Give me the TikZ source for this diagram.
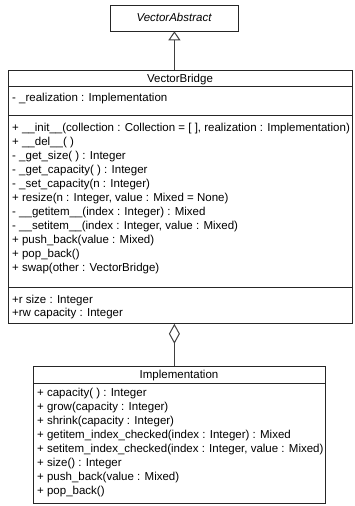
\documentclass[tikz,border=0pt]{standalone}
\usepackage{fontspec}
\setmainfont{Liberation Sans}
\usetikzlibrary{arrows.meta}
\begin{document}
\begin{tikzpicture}[x=1pt,y=1pt,
  box/.style={draw=black!85, line width=0.8pt, inner sep=0pt, anchor=north west},
  sep/.style={draw=black!85, line width=0.8pt},
  txt/.style={anchor=base west, inner sep=0pt, font=\fontsize{11.5}{13}\selectfont},
  ttl/.style={anchor=base, inner sep=0pt, font=\fontsize{11.5}{13}\selectfont},
  conn/.style={draw=black!75, line width=1.4pt}
]
\useasboundingbox (0,0) rectangle (355,-506);
% VectorAbstract
\node[box, minimum width=128pt, minimum height=26pt] (va) at (110,-4.5) {};
\node[ttl, font=\fontsize{11.5}{13}\selectfont\itshape] (vat) at (174,-21) {VectorAbstract};
% VectorBridge
\node[box, minimum width=344pt, minimum height=253pt] (vb) at (8,-70) {};
\draw[sep] (8,-86.5) -- (352,-86.5);
\draw[sep] (8,-115) -- (352,-115);
\draw[sep] (8,-287) -- (352,-287);
\node[ttl] (vbt) at (180,-82) {VectorBridge};
\node[txt] (a1) at (12,-101) {- \_realization : Implementation};
\node[txt] (m1) at (12,-131) {+ \_\_init\_\_(collection : Collection = [ ], realization : Implementation)};
\node[txt] (m2) at (12,-145) {+ \_\_del\_\_( )};
\node[txt] (m3) at (12,-159) {- \_get\_size( ) : Integer};
\node[txt] (m4) at (12,-173) {- \_get\_capacity( ) : Integer};
\node[txt] (m5) at (12,-187) {- \_set\_capacity(n : Integer)};
\node[txt] (m6) at (12,-201) {+ resize(n : Integer, value : Mixed = None)};
\node[txt] (m7) at (12,-215) {- \_\_getitem\_\_(index : Integer) : Mixed};
\node[txt] (m8) at (12,-229) {- \_\_setitem\_\_(index : Integer, value : Mixed)};
\node[txt] (m9) at (12,-243) {+ push\_back(value : Mixed)};
\node[txt] (m10) at (12,-257) {+ pop\_back()};
\node[txt] (m11) at (12,-271) {+ swap(other : VectorBridge)};
\node[txt] (p1) at (12,-303) {+r size : Integer};
\node[txt] (p2) at (12,-316) {+rw capacity : Integer};
% Implementation
\node[box, minimum width=292pt, minimum height=137pt] (im) at (33,-366) {};
\draw[sep] (33,-383) -- (325,-383);
\node[ttl] (imt) at (179,-378) {Implementation};
\node[txt] (i1) at (37,-396) {+ capacity( ) : Integer};
\node[txt] (i2) at (37,-410) {+ grow(capacity : Integer)};
\node[txt] (i3) at (37,-424) {+ shrink(capacity : Integer)};
\node[txt] (i4) at (37,-438) {+ getitem\_index\_checked(index : Integer) : Mixed};
\node[txt] (i5) at (37,-452) {+ setitem\_index\_checked(index : Integer, value : Mixed)};
\node[txt] (i6) at (37,-466) {+ size() : Integer};
\node[txt] (i7) at (37,-480) {+ push\_back(value : Mixed)};
\node[txt] (i8) at (37,-494) {+ pop\_back()};
% connectors
\draw[conn, -{Triangle[open, length=9pt, width=12pt, line width=1pt]}] (vb.north -| va.south) -- (va.south);
\draw[conn, -{Diamond[open, length=20pt, width=11pt, line width=1pt]}] (im.north -| va.south) -- (vb.south -| va.south);
\end{tikzpicture}
\end{document}
